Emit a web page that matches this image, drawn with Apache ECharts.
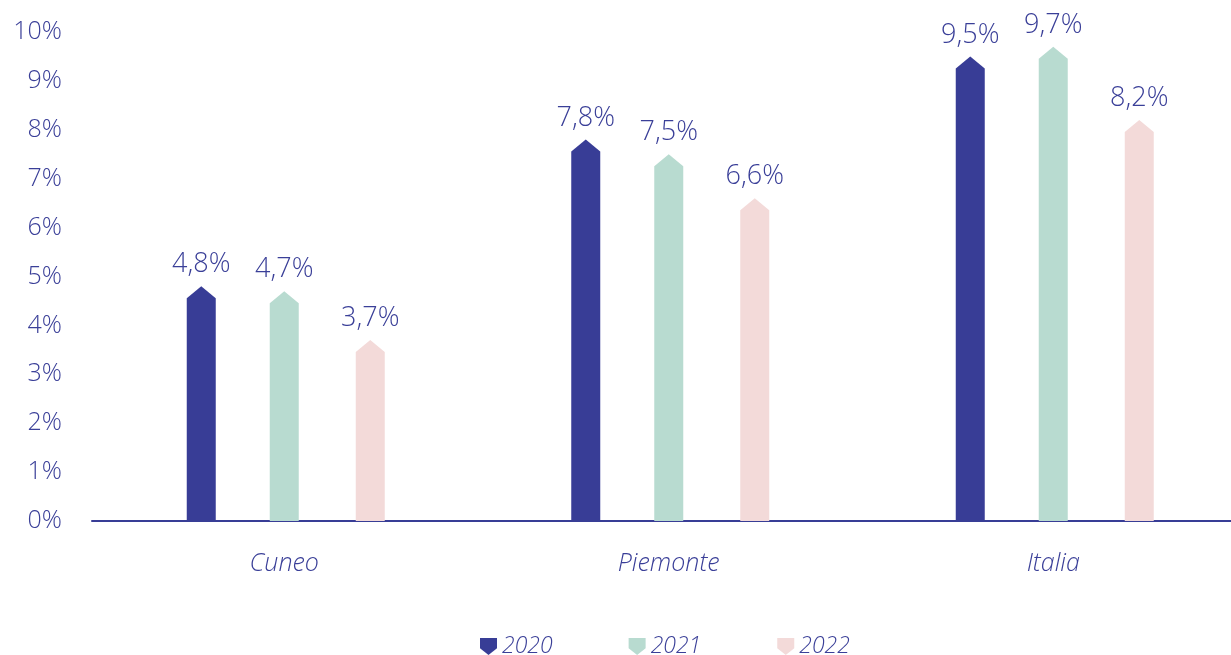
<!DOCTYPE html>
<html>
<head>
<meta charset="utf-8">
<script src="https://cdn.jsdelivr.net/npm/echarts@6/dist/echarts.min.js"></script>
<style>
  html, body { margin: 0; padding: 0; background: #fff; }
  #chart { width: 1231px; height: 655px; }
</style>
</head>
<body>
<div id="chart"></div>
<script>
// data
var categories = ['Cuneo', 'Piemonte', 'Italia'];
var years = ['2020', '2021', '2022'];
var values2020 = [4.8, 7.8, 9.5];
var values2021 = [4.7, 7.5, 9.7];
var values2022 = [3.7, 6.6, 8.2];

var colors = ['#383d96', '#b8dbd0', '#f3dad9'];
var offsets = [-83, 0, 86];
var textColor = '#3a3f98';
var font = '"Open Sans"';

var myChart = echarts.init(document.getElementById('chart'), null, { renderer: 'canvas' });

function fmt(v) {
  return v.toFixed(1).replace('.', ',') + '%';
}

function makeRender(offset, color) {
  return function (params, api) {
    var top = api.coord([api.value(0), api.value(1)]);
    var base = api.coord([api.value(0), 0]);
    var w = 29, h = 12;
    var x = top[0] + offset;
    return {
      type: 'group',
      children: [
        {
          type: 'polygon',
          shape: {
            points: [
              [x - w / 2, base[1]],
              [x - w / 2, top[1] + h],
              [x, top[1]],
              [x + w / 2, top[1] + h],
              [x + w / 2, base[1]]
            ]
          },
          style: { fill: color }
        },
        {
          type: 'text',
          style: {
            text: fmt(api.value(1)),
            x: x,
            y: top[1] - 8,
            align: 'center',
            verticalAlign: 'bottom',
            font: '300 27px ' + font,
            fill: textColor
          }
        }
      ]
    };
  };
}

// x axis: category band of 384.5px, right part clipped by the page edge
var xMax = 1139 / 384.5;

var allValues = [values2020, values2021, values2022];
var series = years.map(function (y, i) {
  return {
    name: y,
    type: 'custom',
    itemStyle: { color: colors[i] },
    renderItem: makeRender(offsets[i], colors[i]),
    encode: { x: 0, y: 1 },
    data: categories.map(function (c, j) { return [j + 0.5, allValues[i][j]]; })
  };
});

var option = {
  animation: false,
  grid: { left: 92, right: 0, top: 32, bottom: 134, containLabel: false },
  legend: {
    top: 635,
    left: 480,
    padding: 0,
    itemWidth: 17,
    itemHeight: 17,
    itemGap: 76,
    icon: 'path://M0,0 L10,0 L10,6 L5,10 L0,6 Z',
    textStyle: { fontFamily: font, fontWeight: 300, fontStyle: 'italic', fontSize: 23, color: textColor },
    data: years
  },
  xAxis: {
    type: 'value',
    min: 0,
    max: xMax,
    interval: 0.5,
    splitLine: { show: false },
    axisLine: { show: true, onZero: false, lineStyle: { color: '#383d96', width: 2 } },
    axisTick: { show: false },
    axisLabel: {
      margin: 30,
      showMaxLabel: false,
      fontFamily: font,
      fontWeight: 300,
      fontStyle: 'italic',
      fontSize: 25,
      color: textColor,
      formatter: function (v) {
        var i = v - 0.5;
        return (Math.abs(i - Math.round(i)) < 1e-6 && categories[Math.round(i)]) ? categories[Math.round(i)] : '';
      }
    }
  },
  yAxis: {
    type: 'value',
    min: 0,
    max: 10,
    interval: 1,
    splitLine: { show: false },
    axisLine: { show: false },
    axisTick: { show: false },
    axisLabel: {
      margin: 30,
      fontFamily: font,
      fontWeight: 300,
      fontSize: 25,
      color: textColor,
      formatter: function (v) { return v + '%'; }
    }
  },
  series: series
};

myChart.setOption(option, true);
window.addEventListener('resize', myChart.resize);
</script>
</body>
</html>
